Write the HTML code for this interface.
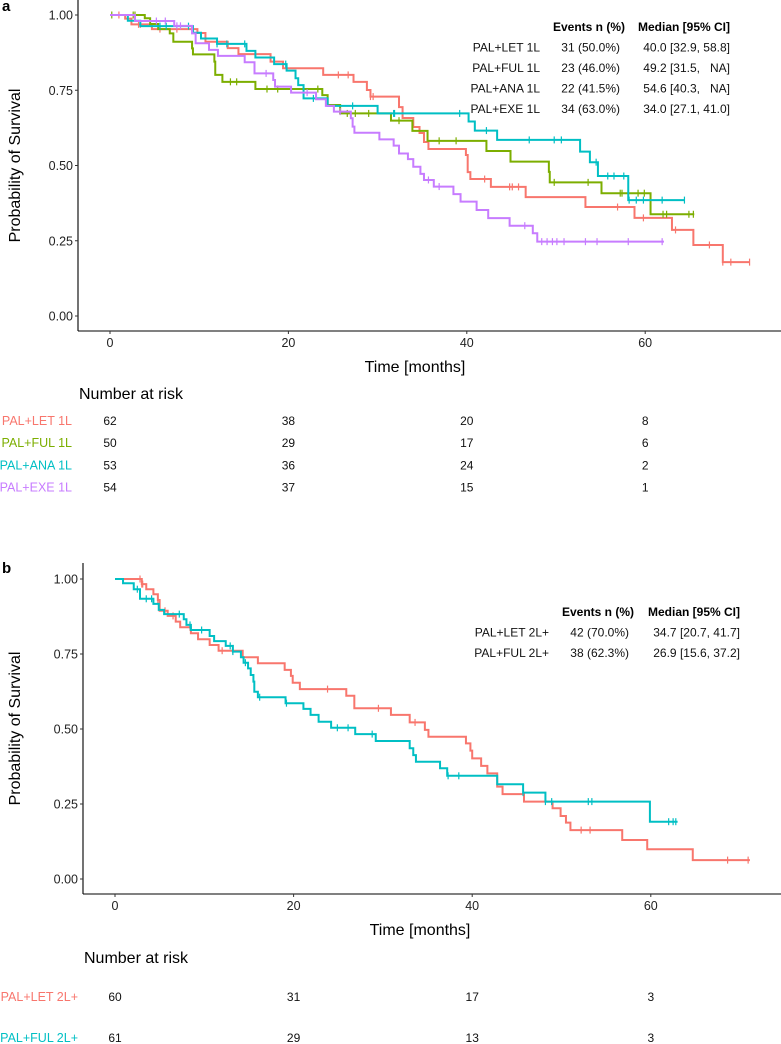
<!DOCTYPE html>
<html><head><meta charset="utf-8"><style>
body{margin:0;background:#fff;}
svg{display:block;font-family:"Liberation Sans",Arial,sans-serif;}
text{white-space:pre;}
</style></head><body>
<svg id="chart" width="781" height="1044" viewBox="0 0 781 1044">
<g id="gA"></g>
<g id="gB"></g>
</svg>
<script>
// ---------- data: panel a ----------
const aNames = ["PAL+LET 1L","PAL+FUL 1L","PAL+ANA 1L","PAL+EXE 1L"];
const aColors = ["#F8766D","#7CAE00","#00BFC4","#C77CFF"];
const aLetT = [1.7,2.4,4.7,9.8,10.7,13.2,14.4,18.0,19.4,23.9,27.3,28.8,29.2,32.4,32.8,34.0,34.7,35.2,35.7,39.9,40.1,40.4,42.7,46.6,53.3,58.8,63.0,65.4,68.7];
const aLetS = [.988,.969,.953,.940,.911,.890,.870,.845,.823,.801,.778,.751,.729,.694,.658,.628,.608,.578,.555,.535,.478,.455,.429,.395,.362,.326,.286,.236,.179];
const aLetEnd = 71.7;
const aLetC = [1.0,3.2,3.4,5.6,7.5,25.6,26.7,29.2,29.5,42.0,44.8,45.1,45.8,56.9,59.8,63.4,67.2,68.7,69.6,71.7];
const aFulT = [3.9,4.5,5.4,6.7,7.1,9.2,9.3,11.7,11.8,12.6,16.3,23.8,24.4,25.8,31.5,33.9,35.6,42.2,44.9,49.2,49.3,55.1,60.6];
const aFulS = [.989,.970,.953,.939,.911,.889,.869,.845,.801,.778,.754,.734,.701,.673,.649,.615,.582,.548,.513,.479,.444,.408,.338];
const aFulEnd = 65.5;
const aFulC = [0.2,2.6,2.8,13.5,14.2,17.6,18.8,23.3,26.6,27.5,29.0,32.4,36.9,38.8,49.8,53.6,57.2,57.4,59.2,59.9,62.0,62.4,64.9,65.4];
const aAnaT = [2.0,3.4,9.3,10.2,12.0,15.3,16.3,18.4,19.8,20.8,21.1,21.7,24.4,30.0,40.2,40.9,43.4,52.7,53.8,54.7,58.1];
const aAnaS = [.981,.963,.941,.922,.904,.881,.859,.837,.815,.790,.767,.723,.698,.673,.646,.616,.585,.546,.511,.465,.385];
const aAnaEnd = 64.4;
const aAnaC = [5.6,6.3,8.8,12.0,13.1,15.1,19.7,22.8,27.2,31.8,31.9,39.2,42.2,47.0,49.8,50.6,54.5,55.8,56.5,57.6,58.2,59.0,59.8,61.9,64.4];
const aExeT = [2.8,7.2,9.2,9.6,11.1,12.1,15.1,16.2,18.3,18.5,20.3,23.1,24.2,25.1,27.0,27.2,27.4,30.2,31.8,32.4,33.4,34.0,34.8,35.2,36.3,38.5,39.3,41.1,42.4,44.8,47.4,47.9];
const aExeS = [.980,.964,.939,.906,.884,.864,.843,.806,.784,.762,.742,.720,.698,.679,.657,.629,.609,.587,.566,.540,.521,.496,.472,.452,.430,.405,.380,.352,.325,.300,.275,.247];
const aExeEnd = 62.1;
const aExeC = [5.2,6.2,7.5,7.9,17.5,22.1,25.8,35.7,36.9,46.5,48.4,49.0,49.6,50.1,50.9,53.3,54.6,58.1,61.9];
const aEvents = ["31 (50.0%)","23 (46.0%)","22 (41.5%)","34 (63.0%)"];
const aMedians = ["40.0 [32.9, 58.8]","49.2 [31.5,   NA]","54.6 [40.3,   NA]","34.0 [27.1, 41.0]"];
const aRisk = [[62,38,20,8],[50,29,17,6],[53,36,24,2],[54,37,15,1]];
// ---------- data: panel b ----------
const bNames = ["PAL+LET 2L+","PAL+FUL 2L+"];
const bColors = ["#F8766D","#00BFC4"];
const bLetT = [3.0,3.5,4.3,4.8,5.0,5.9,6.8,7.3,8.5,9.3,10.6,11.6,14.3,16.0,19.0,19.7,19.9,20.7,25.9,26.8,30.9,33.0,34.7,35.1,39.3,39.8,40.0,41.0,41.7,42.8,43.4,45.8,49.0,49.9,50.5,51.0,56.8,59.6,64.7];
const bLetS = [.983,.966,.949,.930,.894,.877,.858,.839,.819,.799,.780,.761,.739,.719,.697,.677,.654,.633,.611,.569,.547,.522,.497,.474,.452,.428,.402,.377,.352,.308,.283,.258,.236,.210,.188,.163,.130,.099,.063];
const bLetEnd = 71.1;
const bLetC = [2.8,3.0,3.1,4.8,5.6,6.5,8.4,12.0,13.2,23.8,29.5,33.6,52.2,53.2,68.6,70.9];
const bFulT = [0.9,2.1,2.8,4.3,4.9,5.5,7.7,8.0,8.5,10.6,11.1,12.4,13.2,14.1,14.4,14.9,15.2,15.5,15.6,16.0,19.1,21.1,21.9,22.8,24.2,26.9,29.2,33.0,33.4,33.7,36.4,37.2,42.8,45.7,48.2,59.9];
const bFulS = [.986,.966,.934,.917,.897,.883,.866,.847,.830,.810,.793,.777,.758,.739,.721,.702,.680,.658,.624,.606,.586,.567,.547,.524,.504,.483,.460,.436,.413,.391,.369,.344,.316,.288,.258,.191];
const bFulEnd = 63.0;
const bFulC = [2.5,3.5,4.1,7.2,8.4,9.7,12.9,13.2,14.6,16.2,19.2,24.9,26.1,28.8,37.3,38.5,45.7,48.2,48.9,53.0,53.4,62.0,62.5,62.8];
const bEvents = ["42 (70.0%)","38 (62.3%)"];
const bMedians = ["34.7 [20.7, 41.7]","26.9 [15.6, 37.2]"];
const bRisk = [[60,31,17,3],[61,29,13,3]];
const xTicks = [0,20,40,60];
const yTicks = [0,0.25,0.5,0.75,1];
const yTickLabels = ["0.00","0.25","0.50","0.75","1.00"];

const NS = "http://www.w3.org/2000/svg";
function mk(parent, tag, attrs, text){
  const e = document.createElementNS(NS, tag);
  for (const k in attrs) e.setAttribute(k, attrs[k]);
  if (text !== undefined) e.textContent = text;
  parent.appendChild(e);
  return e;
}
function survAt(T,S,t){let s=1;for(let i=0;i<T.length;i++){if(T[i]<=t)s=S[i];}return s;}

function drawPanel(g, cfg){
  const X = t => cfg.x0 + t*cfg.kx;
  const Y = s => cfg.y0 - s*cfg.ky;
  const lt = mk(g,"text",{x:2,y:cfg.letterY,"font-size":15,"font-weight":"bold",fill:"#000"},cfg.letter);
  
  
  const ya = mk(g,"line",{x1:cfg.axX,y1:cfg.axTop,x2:cfg.axX,y2:cfg.axBottom,stroke:"#000","stroke-width":1.1});
  
  
  const xa = mk(g,"line",{x1:cfg.axX,y1:cfg.axBottom,x2:781,y2:cfg.axBottom,stroke:"#000","stroke-width":1.1});
  
  
  yTicks.forEach((v,i)=>{
    const tk = mk(g,"line",{x1:cfg.axX-3,y1:Y(v),x2:cfg.axX,y2:Y(v),stroke:"#333"});
    
    
    const tl = mk(g,"text",{x:cfg.axX-5,y:Y(v)+4.5,"font-size":12.5,"text-anchor":"end",fill:"#222"},yTickLabels[i]);
    
    
  });
  xTicks.forEach(v=>{
    const tk = mk(g,"line",{x1:X(v),y1:cfg.axBottom,x2:X(v),y2:cfg.axBottom+3,stroke:"#333"});
    
    
    const tl = mk(g,"text",{x:X(v),y:cfg.axBottom+16,"font-size":12.5,"text-anchor":"middle",fill:"#222"},String(v));
    
    
  });
  const xt = mk(g,"text",{x:cfg.xTitleX,y:cfg.axBottom+41,"font-size":16,"text-anchor":"middle",fill:"#000"},"Time [months]");
  
  
  const ytt = mk(g,"text",{x:0,y:0,"font-size":16,"text-anchor":"middle",fill:"#000",transform:`translate(20,${(cfg.axTop+cfg.axBottom)/2}) rotate(-90)`},"Probability of Survival");
  
  
  cfg.series.forEach((sr,i)=>{
    let d = `M${X(0)},${Y(1)}`;
    sr.T.forEach((t,j)=>{ d += ` H${X(t)} V${Y(sr.S[j])}`; });
    d += ` H${X(sr.end)}`;
    const p = mk(g,"path",{d:d,fill:"none",stroke:cfg.colors[i],"stroke-width":2});
    
    
    sr.C.forEach(c=>{
      const s = survAt(sr.T,sr.S,c);
      const m = mk(g,"line",{x1:X(c),y1:Y(s)-3.5,x2:X(c),y2:Y(s)+3.5,stroke:cfg.colors[i],"stroke-width":1.2});
      
      
    });
  });
  const hd1 = mk(g,"text",{x:cfg.evX,y:cfg.tabY,"font-size":12,"font-weight":"bold","text-anchor":"end",fill:"#000"},"Events n (%)");
  
  
  const hd2 = mk(g,"text",{x:cfg.mdX,y:cfg.tabY,"font-size":12,"font-weight":"bold","text-anchor":"end",fill:"#000"},"Median [95% CI]");
  
  
  cfg.names.forEach((n,i)=>{
    const yy = cfg.tabY + (i+1)*cfg.tabDy;
    const a = mk(g,"text",{x:cfg.lbX,y:yy,"font-size":12,"text-anchor":"end",fill:"#111"},n);
    
    
    const b = mk(g,"text",{x:cfg.evX-5,y:yy,"font-size":12,"text-anchor":"end",fill:"#111"},cfg.events[i]);
    
    
    const c = mk(g,"text",{x:cfg.mdX,y:yy,"font-size":12,"text-anchor":"end",fill:"#111",style:"white-space:pre"},cfg.medians[i]);
    
    
  });
  const rt = mk(g,"text",{x:cfg.axX+1,y:cfg.riskTitleY,"font-size":16,fill:"#000"},"Number at risk");
  
  
  cfg.names.forEach((n,i)=>{
    const yy = cfg.riskY0 + i*cfg.riskDy;
    const l = mk(g,"text",{x:cfg.riskLabX,y:yy,"font-size":12.5,"text-anchor":"end",fill:cfg.colors[i]},n);
    
    
    cfg.risk[i].forEach((v,k)=>{
      const tv = mk(g,"text",{x:X(xTicks[k]),y:yy,"font-size":12,"text-anchor":"middle",fill:"#111"},String(v));
      
      
    });
  });
}

drawPanel(document.getElementById('gA'),{
  letter:"a", letterY:11, x0:110, kx:8.92, y0:316, ky:301,
  axX:78, axTop:0, axBottom:331, xTitleX:415,
  colors:aColors, names:aNames, events:aEvents, medians:aMedians, risk:aRisk,
  series:[{T:aLetT,S:aLetS,end:aLetEnd,C:aLetC},{T:aFulT,S:aFulS,end:aFulEnd,C:aFulC},{T:aAnaT,S:aAnaS,end:aAnaEnd,C:aAnaC},{T:aExeT,S:aExeS,end:aExeEnd,C:aExeC}],
  tabY:31, tabDy:20.5, lbX:540, evX:625, mdX:730,
  riskTitleY:399, riskY0:425, riskDy:22.2, riskLabX:72
});
drawPanel(document.getElementById('gB'),{
  letter:"b", letterY:573, x0:115, kx:8.93, y0:879, ky:300,
  axX:83, axTop:563, axBottom:894, xTitleX:420,
  colors:bColors, names:bNames, events:bEvents, medians:bMedians, risk:bRisk,
  series:[{T:bLetT,S:bLetS,end:bLetEnd,C:bLetC},{T:bFulT,S:bFulS,end:bFulEnd,C:bFulC}],
  tabY:616, tabDy:20.5, lbX:549, evX:634, mdX:740,
  riskTitleY:963, riskY0:1001, riskDy:41, riskLabX:78
});
</script>
</body></html>
